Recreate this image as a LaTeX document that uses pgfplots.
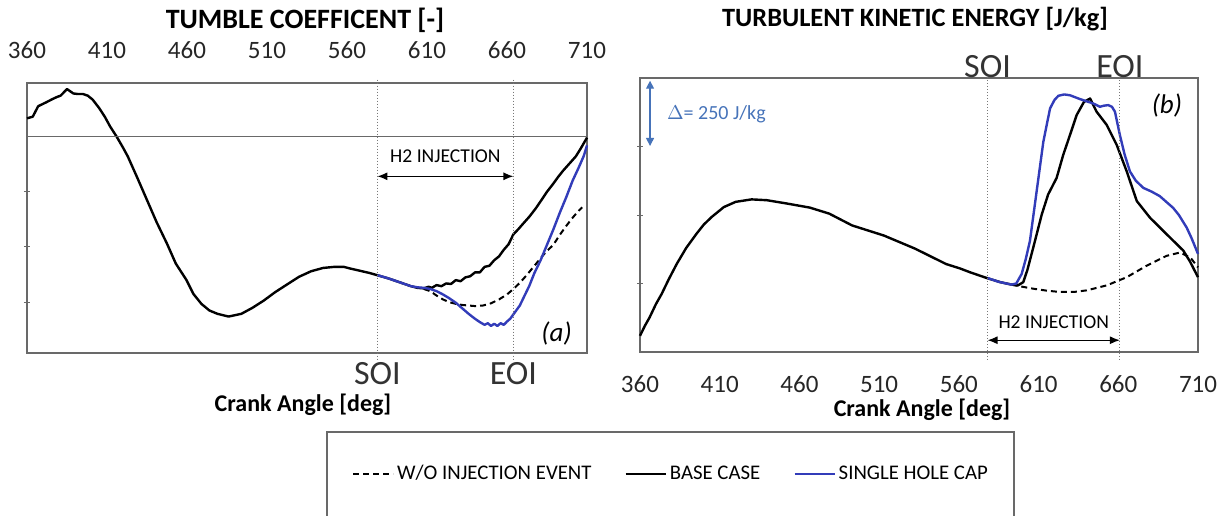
\documentclass[border=0pt]{standalone}
\usepackage{fontspec}
\setmainfont{Carlito}
\usepackage{pgfplots}
\pgfplotsset{compat=1.18}
\usetikzlibrary{arrows.meta}
\definecolor{myblue}{RGB}{50,60,185}
\definecolor{deltablue}{RGB}{70,115,185}
\definecolor{framegray}{RGB}{105,105,105}
\definecolor{dotgray}{RGB}{120,120,120}

\pgfplotsset{
  myaxis/.style={
    scale only axis, clip=false,
    axis line style={framegray, line width=0.6pt},
    /pgf/number format/assume math mode=true,
    tick label style={font=\fontsize{12.5}{14}\selectfont, text=black!85},
    x tick style={draw=none},
    y tick style={framegray, line width=0.5pt},
    ytick pos=left, tick align=center, major tick length=3pt,
    yticklabels={},
    xtick={360,410,...,710},
    xmin=360, xmax=710,
  },
  basecase/.style={black, line width=1.2pt, line join=round},
  holecap/.style={myblue, line width=1.2pt, line join=round},
  woinj/.style={black, line width=1pt, dash pattern=on 3pt off 2pt},
}

\begin{document}
\begin{tikzpicture}
\path[use as bounding box] (0,0) rectangle (612pt,257.5pt);

% ---------------- LEFT: tumble coefficient ----------------
\begin{axis}[myaxis,
  at={(13.5pt,81pt)}, anchor=south west, width=280pt, height=135pt,
  ymin=-3.92, ymax=0.97, ytick={-1,-2,-3},
  xticklabel pos=upper,
  xticklabel style={yshift=7pt},
]
\addplot[woinj] coordinates {
(608,-2.76) (612,-2.80) (616,-2.88) (620,-2.95) (624,-3.00) (628,-3.03)
(632,-3.05) (636,-3.06) (640,-3.07) (645,-3.06) (650,-3.02) (655,-2.95)
(660,-2.86) (664,-2.76) (668,-2.65) (672,-2.52) (676,-2.38) (680,-2.24)
(684,-2.10) (689,-1.96) (693,-1.78) (697,-1.62) (701,-1.47) (704,-1.37) (707,-1.28)
};
\addplot[basecase] coordinates {
(360,0.33) (363.6,0.36) (367,0.55) (372,0.62) (376,0.68) (379,0.72) (381,0.74)
(383,0.80) (385,0.86) (387,0.82) (389,0.78) (392,0.77) (395,0.77) (398,0.74)
(401,0.67) (405,0.52) (408.6,0.36) (412,0.18) (416,0.0) (420,-0.2) (423,-0.36)
(429,-0.75) (435,-1.15) (441,-1.55) (447.5,-1.94) (453,-2.3) (459.7,-2.6)
(464,-2.85) (469,-3.03) (474,-3.15) (479,-3.21) (486,-3.26) (494,-3.21)
(501,-3.10) (508,-2.97) (515,-2.82) (523,-2.67) (530,-2.54) (537.5,-2.44)
(545,-2.38) (552,-2.36) (558,-2.36) (562,-2.39) (568,-2.43) (574,-2.47)
(580,-2.52) (586,-2.57) (593,-2.64) (600,-2.71) (604,-2.74) (608,-2.75)
(611,-2.72) (613,-2.74) (616,-2.69) (619,-2.71) (622,-2.66) (625,-2.67)
(628,-2.60) (631,-2.62) (634,-2.55) (637,-2.53) (640,-2.46) (643,-2.46)
(646,-2.36) (649,-2.34) (652,-2.24) (655,-2.17) (658,-2.05) (661,-1.95)
(664,-1.77) (667,-1.68) (670,-1.58) (674,-1.45) (678,-1.30) (682,-1.13)
(685,-1.00) (689,-0.85) (692,-0.73) (695,-0.62) (699,-0.49) (703,-0.36)
(706,-0.22) (710,-0.02)
};
\addplot[holecap] coordinates {
(579,-2.51) (586,-2.57) (593,-2.64) (600,-2.71) (604,-2.73) (608,-2.74)
(612,-2.76) (616,-2.80) (620,-2.86) (624,-2.93) (628,-3.01) (632,-3.11)
(636,-3.21) (640,-3.30) (643,-3.36) (646,-3.41) (648,-3.38) (650,-3.43)
(652,-3.39) (654,-3.43) (656,-3.38) (658,-3.41) (660,-3.35) (662,-3.30)
(665,-3.18) (668,-3.06) (671,-2.88) (674,-2.70) (677,-2.48) (681,-2.24)
(685,-1.96) (689,-1.68) (693,-1.38) (697,-1.10) (701,-0.80) (705,-0.55)
(708,-0.35) (710,-0.16)
};
% zero line
\draw[framegray, line width=0.6pt] (axis cs:360,0) -- (axis cs:710,0);
% SOI / EOI
\draw[dotgray, densely dotted, line width=0.5pt] (axis cs:579,1.03) -- (axis cs:579,-4.06);
\draw[dotgray, densely dotted, line width=0.5pt] (axis cs:664,1.03) -- (axis cs:664,-4.06);
\node[font=\fontsize{17}{19}\selectfont, text=black!80] at (axis cs:579,-4.29) {SOI};
\node[font=\fontsize{17}{19}\selectfont, text=black!80] at (axis cs:664,-4.29) {EOI};
\draw[{Latex[length=5pt,width=4pt]}-{Latex[length=5pt,width=4pt]}, line width=0.6pt] (axis cs:579,-0.72) -- (axis cs:664,-0.72);
\node[font=\fontsize{9.8}{11}\selectfont] at (axis cs:621.5,-0.36) {H2 INJECTION};
\node[font=\itshape\fontsize{13.5}{15}\selectfont] at (axis cs:691,-3.57) {(a)};
\end{axis}

% ---------------- RIGHT: turbulent kinetic energy ----------------
\begin{axis}[myaxis,
  at={(320pt,81.5pt)}, anchor=south west, width=279pt, height=137pt,
  ymin=0, ymax=1000, ytick={250,500,750},
  xticklabel pos=lower,
  xticklabel style={yshift=-7pt},
  legend style={at={(0.0565,-0.445)}, anchor=center, draw=none, fill=none,
    legend columns=3, font=\fontsize{10.4}{12}\selectfont,
    nodes={inner sep=1.5pt},
    /tikz/every even column/.append style={column sep=15pt}},
  legend image code/.code={\draw[#1] (0pt,0pt) -- (20pt,0pt);},
]
\addplot[woinj] coordinates {
(593,246) (600,238) (606.7,231) (615,224) (623.4,219) (632,219) (640.2,225)
(652.7,243) (665.3,273) (677.8,315) (690.3,351) (698.7,363) (705.2,345) (710,309)
};
\addlegendentry{W/O INJECTION EVENT}
\addplot[basecase] coordinates {
(360,59) (363,95) (366,126) (370,175) (373.5,211) (378,265) (383,321) (389,380)
(395.5,432) (400,465) (405,493) (412.6,529) (420,548) (430,557) (439.6,554)
(452,542) (466.5,527) (478.7,505) (493,462) (513,425) (532.6,377) (552,321)
(560.7,305) (567,291) (577.5,270) (586,255) (593,246) (597,243) (600.4,255)
(603,300) (606.7,382) (612,502) (616,575) (621.3,635) (625.5,720) (629.7,792)
(633.9,865) (638.5,913) (642.3,925) (644,905) (646.4,877) (652.7,829) (659,756)
(665.3,659) (671.6,551) (679.9,490) (690.3,430) (700.8,370) (705,330) (710,273)
};
\addlegendentry{BASE CASE}
\addplot[holecap] coordinates {
(578,270) (585,256) (593.1,246) (596,250) (599.4,285) (602,340) (604.6,406)
(608.8,587) (613,768) (617.2,889) (620,920) (622.4,935) (626,940) (629.7,937)
(636,923) (644.3,907) (648.5,895) (651,899) (653.7,901) (656,895) (657.9,877)
(661,792) (664,720) (667.3,659) (671,625) (675.7,599) (681,585) (686,569)
(694.4,526) (698,500) (702.9,454) (706,415) (710,358)
};
\addlegendentry{SINGLE HOLE CAP}
% SOI / EOI
\draw[dotgray, densely dotted, line width=0.5pt] (axis cs:578,1015) -- (axis cs:578,-30);
\draw[dotgray, densely dotted, line width=0.5pt] (axis cs:661,1015) -- (axis cs:661,-30);
\node[font=\fontsize{17}{19}\selectfont, text=black!80] at (axis cs:578,1040) {SOI};
\node[font=\fontsize{17}{19}\selectfont, text=black!80] at (axis cs:661,1040) {EOI};
\draw[{Latex[length=5pt,width=4pt]}-{Latex[length=5pt,width=4pt]}, line width=0.6pt] (axis cs:578,43) -- (axis cs:661,43);
\node[font=\fontsize{9.8}{11}\selectfont] at (axis cs:619.5,109) {H2 INJECTION};
\node[font=\itshape\fontsize{13.5}{15}\selectfont] at (axis cs:690.5,898) {(b)};
% delta annotation
\draw[deltablue, line width=0.6pt, {Triangle[length=4pt,width=4pt]}-{Triangle[length=4pt,width=4pt]}] (axis cs:366.3,990) -- (axis cs:366.3,752);
\node[deltablue, anchor=west, font=\fontsize{10}{12}\selectfont] at (axis cs:372.5,866) {$\Delta$= 250 J/kg};
\end{axis}

% titles and axis labels
\node[font=\bfseries\fontsize{14}{16}\selectfont] at (152.5pt,247.5pt) {TUMBLE COEFFICENT [-]};
\node[font=\bfseries\fontsize{13.2}{15}\selectfont] at (457.5pt,248pt) {TURBULENT KINETIC ENERGY [J/kg]};
\node[font=\bfseries\fontsize{12}{14}\selectfont] at (151.5pt,55pt) {Crank Angle [deg]};
\node[font=\bfseries\fontsize{12}{14}\selectfont] at (461pt,52.5pt) {Crank Angle [deg]};
% legend frame
\draw[framegray, line width=0.6pt] (163.5pt,-3pt) rectangle (507pt,41.5pt);
\end{tikzpicture}
\end{document}
